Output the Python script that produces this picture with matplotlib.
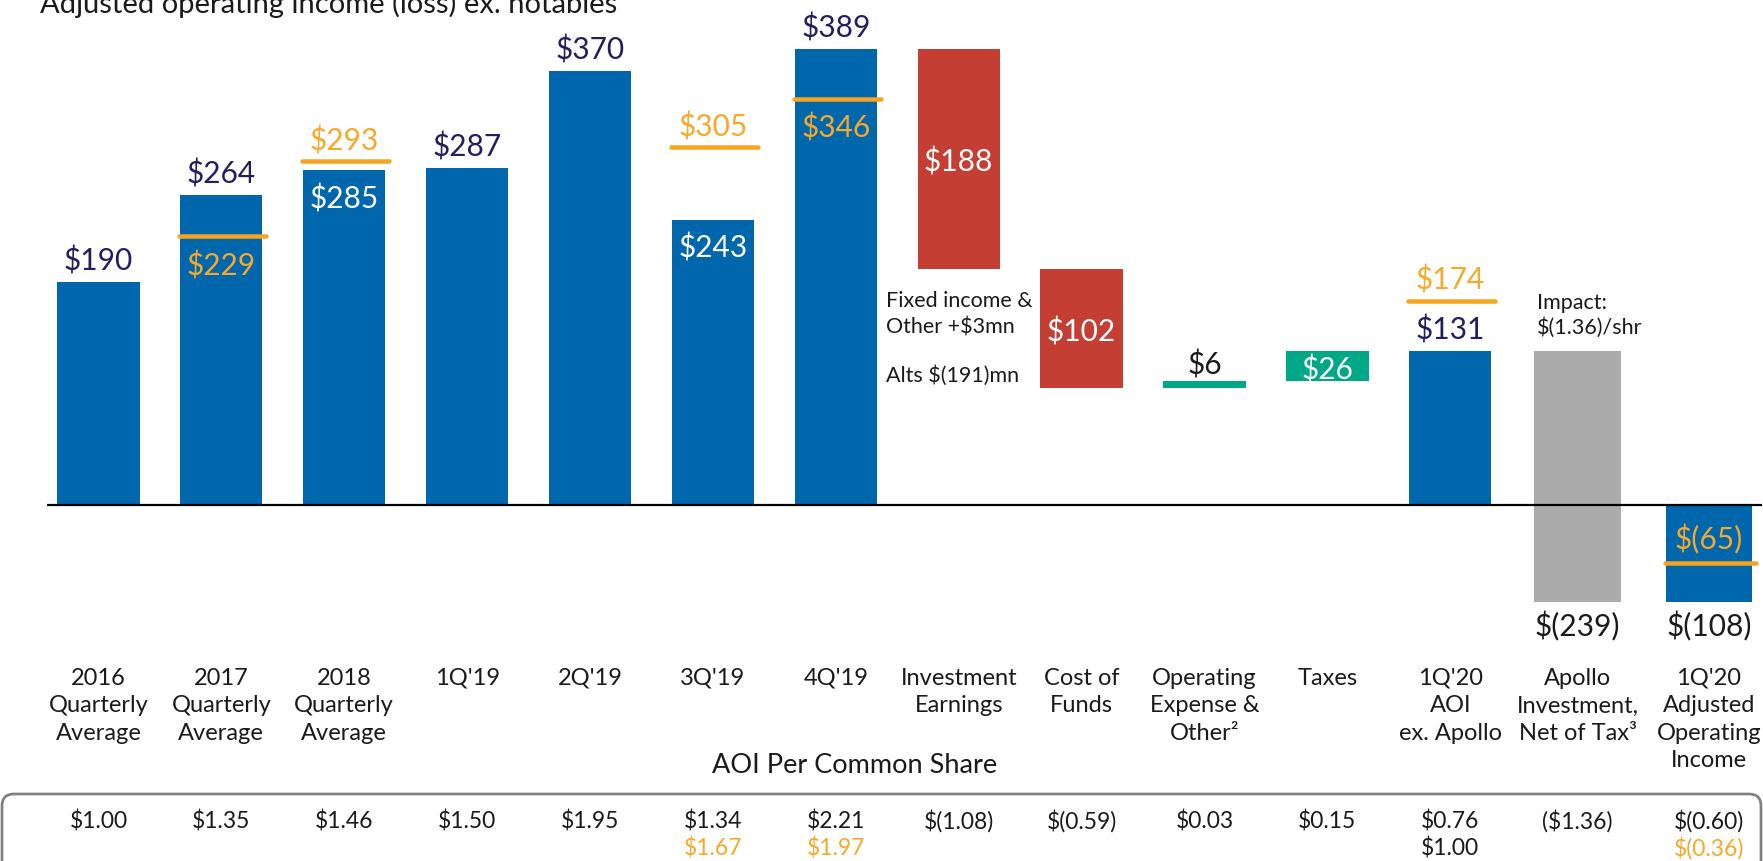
import numpy as np
import matplotlib
matplotlib.use("Agg")
import matplotlib.pyplot as plt
from matplotlib.patches import FancyBboxPatch
from matplotlib.transforms import blended_transform_factory, IdentityTransform

# ---------------- data ----------------
categories = [
    "2016\nQuarterly\nAverage", "2017\nQuarterly\nAverage", "2018\nQuarterly\nAverage",
    "1Q'19", "2Q'19", "3Q'19", "4Q'19",
    "Investment\nEarnings", "Cost of\nFunds", "Operating\nExpense &\nOther\u00b2", "Taxes",
    "1Q'20\nAOI\nex. Apollo", "Apollo\nInvestment,\nNet of Tax\u00b3",
    "1Q'20\nAdjusted\nOperating\nIncome",
]
hist_values = [190, 264, 285, 287, 370, 243, 389]
hist_ex_notables = [None, 229, 293, None, None, 305, 346]
bridge_changes = [-188, -102, 6, 26]
aoi_ex_apollo = 131
aoi_ex_apollo_ex_notables = 174
apollo_impact = -239
aoi_total = -108
aoi_total_ex_notables = -65
eps_row1 = ["$1.00", "$1.35", "$1.46", "$1.50", "$1.95", "$1.34", "$2.21",
            "$(1.08)", "$(0.59)", "$0.03", "$0.15", "$0.76", "($1.36)", "$(0.60)"]
eps_row2 = ["", "", "", "", "", "$1.67", "$1.97", "", "", "", "", "$1.00", "", "$(0.36)"]
eps_row2_is_ex_notables = [False, False, False, False, False, True, True,
                           False, False, False, False, False, False, True]
title = "Adjusted operating income (loss) ex. notables"
table_title = "AOI Per Common Share"
fixed_income_note = ["Fixed income &", "Other +$3mn"]
alts_note = "Alts $(191)mn"
impact_note = ["Impact:", "$(1.36)/shr"]

# ---------------- style ----------------
BLUE = "#0067AC"
RED = "#C43E33"
GREEN = "#00A887"
GRAY = "#ABABAB"
ORANGE = "#F7A51E"
ORANGE_TXT = "#F6A92A"
NAVY = "#221E5F"
BLACK = "#1A1A1A"
FONT = ["Lato", "DejaVu Sans"]
plt.rcParams["font.family"] = FONT

W, H, DPI = 1763, 862, 100
PXU = 1.172          # pixels per unit (positive side)
Y0 = 505.5           # pixel row of zero
K = 0.768            # compression of negative side
SPACING = 122.9
X0 = 98.4


def pt(px):
    return px * 72.0 / DPI


def fwd(y):
    y = np.asarray(y, dtype=float)
    return np.where(y < 0, y * K, y)


def inv(t):
    t = np.asarray(t, dtype=float)
    return np.where(t < 0, t / K, t)


fig = plt.figure(figsize=(W / DPI, H / DPI), dpi=DPI)
ax = fig.add_axes([0, 0, 1, 1])
ax.set_yscale("function", functions=(fwd, inv))
ax.set_xlim(-X0 / SPACING, (W - X0) / SPACING)
ax.set_ylim(-(H - Y0) / PXU / K, Y0 / PXU)
ax.axis("off")

blend = blended_transform_factory(ax.transData, ax.transAxes)


def fy(px):
    return 1 - px / H


n = len(categories)
xs = np.arange(n, dtype=float)
xs[-2] += 0.035
xs[-1] += 0.105
widths = [0.67] * (n - 2) + [0.704] * 2
VAL_FS = 21.5
LAB_FS = 17
TAB_FS = 16.5
NOTE_FS = 15.5


def label(x, y, s, color, dy_px, fs=VAL_FS, va="baseline"):
    ax.annotate(s, (x, y), xytext=(0, pt(dy_px)), textcoords="offset points",
                ha="center", va=va, color=color, fontsize=fs, zorder=6)


def orange_line(x, y, w):
    hw = w / 2 + 0.012
    ax.plot([x - hw + 0.005, x + hw + 0.02], [y, y], color=ORANGE, lw=pt(4.5),
            solid_capstyle="round", zorder=5)


def money(v):
    return f"${v}" if v >= 0 else f"$({-v})"


# historical bars
for i, v in enumerate(hist_values):
    x, w = xs[i], widths[i]
    ax.bar(x, v, w, color=BLUE, zorder=2)
    ex = hist_ex_notables[i]
    if ex is None:
        label(x, v, money(v), NAVY, 12.5)
    elif ex > v:
        label(x, v, money(v), "white", -37)
        orange_line(x, ex, w)
        label(x, ex, money(ex), ORANGE_TXT, 12)
    else:
        label(x, v, money(v), NAVY, 12.5)
        orange_line(x, ex, w)
        label(x, ex, money(ex), ORANGE_TXT, -38)

# bridge
cur = hist_values[-1]
for j, d in enumerate(bridge_changes):
    i = len(hist_values) + j
    x, w = xs[i], widths[i]
    bottom = cur if d > 0 else cur + d
    ax.bar(x, abs(d), w, bottom=bottom, color=RED if d < 0 else GREEN, zorder=2)
    if abs(d) * PXU > 30:
        ax.text(x, bottom + abs(d) / 2, money(abs(d)), ha="center", va="center_baseline",
                color="white", fontsize=VAL_FS, zorder=6)
    else:
        label(x, bottom + abs(d), money(abs(d)), BLACK, 8)
    cur += d

# subtotal
i = len(hist_values) + len(bridge_changes)
ax.bar(xs[i], aoi_ex_apollo, widths[i], color=BLUE, zorder=2)
label(xs[i], aoi_ex_apollo, money(aoi_ex_apollo), NAVY, 12)
orange_line(xs[i], aoi_ex_apollo_ex_notables, widths[i])
label(xs[i], aoi_ex_apollo_ex_notables, money(aoi_ex_apollo_ex_notables), ORANGE_TXT, 12)

# apollo impact
i += 1
ax.bar(xs[i], abs(apollo_impact), widths[i], bottom=aoi_ex_apollo + apollo_impact,
       color=GRAY, zorder=2)
label(xs[i], aoi_ex_apollo + apollo_impact, money(apollo_impact), BLACK, -24, va="center")

# total
i += 1
ax.bar(xs[i], aoi_total, widths[i], color=BLUE, zorder=2)
orange_line(xs[i], aoi_total_ex_notables, widths[i])
label(xs[i], aoi_total_ex_notables, money(aoi_total_ex_notables), ORANGE_TXT, 15)
label(xs[i], aoi_total, money(aoi_total), BLACK, -24, va="center")

# zero line
ax.plot([(47 - X0) / SPACING, (W - 1 - X0) / SPACING], [0, 0], color="black",
        lw=pt(2.2), zorder=7, solid_capstyle="butt")

# notes
for k, s in enumerate(fixed_income_note):
    fig.text(886 / W, fy(307 + 27 * k), s, ha="left", va="baseline", fontsize=NOTE_FS, color=BLACK)
fig.text(886 / W, fy(381.5), alts_note, ha="left", va="baseline", fontsize=NOTE_FS, color=BLACK)
for k, s in enumerate(impact_note):
    fig.text(1537 / W, fy(309 + 25 * k), s, ha="left", va="baseline", fontsize=NOTE_FS, color=BLACK)

# title (cut at the top)
fig.text(40 / W, fy(13.5), title, ha="left", va="baseline", fontsize=21, color=BLACK)

# category labels
for i, cat in enumerate(categories):
    for k, line in enumerate(cat.split("\n")):
        ax.text(xs[i], fy(685 + 27.5 * k), line, transform=blend, ha="center",
                va="baseline", fontsize=LAB_FS, color=BLACK)

ax.text((855 - X0) / SPACING, fy(773), table_title, transform=blend, ha="center",
        va="baseline", fontsize=19.5, color=BLACK)

# table box
box = FancyBboxPatch((2, -40), W - 4, (H - 795) + 40,
                     boxstyle="round,pad=0,rounding_size=12",
                     transform=IdentityTransform(), facecolor="none",
                     edgecolor="#808080", lw=pt(2.7), zorder=1)
fig.patches.append(box)

for i in range(n):
    ax.text(xs[i], fy(829), eps_row1[i], transform=blend, ha="center", va="baseline",
            fontsize=TAB_FS, color=BLACK)
    if eps_row2[i]:
        ax.text(xs[i], fy(856), eps_row2[i], transform=blend, ha="center", va="baseline",
                fontsize=TAB_FS, color=ORANGE_TXT if eps_row2_is_ex_notables[i] else BLACK)

fig.savefig("out.png", dpi=DPI)
